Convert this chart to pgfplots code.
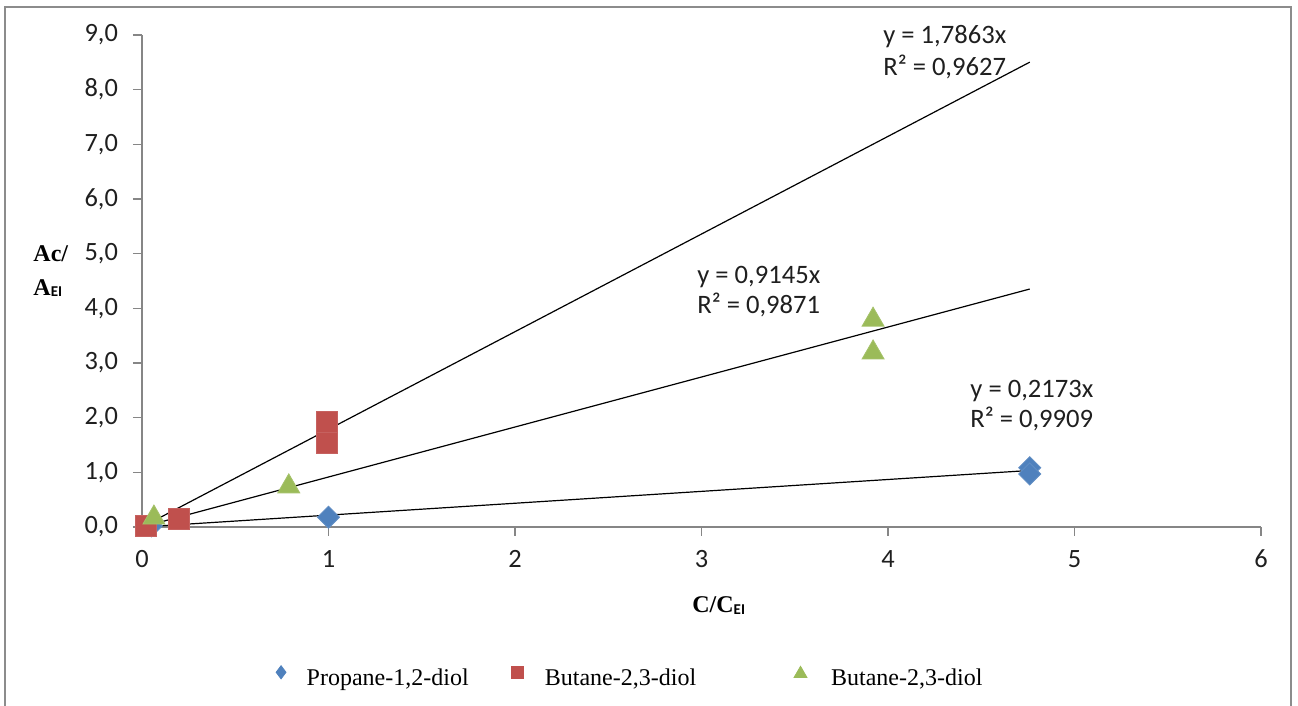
\documentclass[border=0pt]{standalone}
\usepackage{pgfplots}
\pgfplotsset{compat=1.18}
\usepackage{fontspec}
\setmainfont{Liberation Serif}
\newfontfamily\carlito{Carlito}
\definecolor{axgray}{HTML}{868686}
\definecolor{frgray}{HTML}{8C8C8C}
\definecolor{cblue}{HTML}{4F81BD}
\definecolor{cred}{HTML}{C0504D}
\definecolor{cgreen}{HTML}{9BBB59}
\begin{document}
\begin{tikzpicture}
\useasboundingbox (-71pt,-89.5pt) rectangle (578pt,263.5pt);
\draw[frgray, line width=1.2pt] (-68.5pt,-100pt) -- (-68.5pt,260pt) -- (574.5pt,260pt) -- (574.5pt,-100pt);
\begin{axis}[
  at={(0pt,0pt)}, anchor=south west,
  scale only axis, width=559.5pt, height=246pt,
  xmin=0, xmax=6, ymin=0, ymax=9,
  axis x line*=bottom, axis y line*=left,
  axis line style={axgray, line width=0.6pt},
  xtick={0,1,2,3,4,5,6}, ytick={0,1,2,3,4,5,6,7,8,9},
  xticklabels={0,1,2,3,4,5,6},
  yticklabels={{0,0},{1,0},{2,0},{3,0},{4,0},{5,0},{6,0},{7,0},{8,0},{9,0}},
  tick align=outside, major tick length=4.5pt,
  tick style={axgray, line width=0.6pt},
  tick label style={font=\carlito\fontsize{13.2}{15}\selectfont, text=black!88},
  yticklabel style={xshift=-4pt},
  xticklabel style={yshift=-3.5pt},
  clip=false,
  legend columns=3,
  legend style={at={(axis cs:0.717,-2.744)}, anchor=west, draw=none, fill=none,
    column sep=0pt, inner sep=0pt, nodes={inner sep=0pt},
    cells={anchor=base west}, font=\fontsize{12}{14}\selectfont},
]
\addplot[only marks, mark=square*, mark size=3.9pt, mark options={rotate=45, fill=cblue, draw=cblue!90!white},
  legend image code/.code={\draw[mark=diamond*, mark size=3.3pt, mark options={fill=cblue, draw=cblue}] plot coordinates {(2.6pt,6.5pt)};}]
  coordinates {(0.05,0.02) (1.0,0.18) (4.76,1.085) (4.76,0.97)};
\addlegendentry{\makebox[112.85pt][l]{\hspace{10.35pt}Propane-1,2-diol}}
\addplot[only marks, mark=square*, mark size=5.25pt, mark options={fill=cred, draw=cred!90!white, rounded corners=1pt},
  legend image code/.code={\draw[mark=square*, mark size=2.8pt, mark options={fill=cred, draw=cred}] plot coordinates {(3pt,6.5pt)};}]
  coordinates {(0.02,0.02) (0.2,0.155) (0.99,1.92) (0.99,1.54)};
\addlegendentry{\makebox[135.6pt][l]{\hspace{11pt}Butane-2,3-diol}}
\addplot[only marks, mark=triangle*, mark size=6.35pt, mark options={fill=cgreen, draw=cgreen!90!white},
  legend image code/.code={\draw[mark=triangle*, mark size=3.7pt, mark options={fill=cgreen, draw=cgreen}] plot coordinates {(3.4pt,5.8pt)};}]
  coordinates {(0.064,0.17) (0.787,0.74) (3.92,3.79) (3.92,3.19)};
\addlegendentry{\hspace{12.1pt}Butane-2,3-diol}
\addplot[forget plot, black, line width=0.6pt] coordinates {(0,0) (4.76,8.503)};
\addplot[forget plot, black, line width=0.6pt] coordinates {(0,0) (4.76,4.353)};
\addplot[forget plot, black, line width=0.6pt] coordinates {(0,0) (4.76,1.034)};
\begin{scope}[every node/.style={anchor=base west, inner sep=0pt, font=\carlito\fontsize{13.3}{15}\selectfont, text=black!88}]
\node at (axis cs:3.973,8.853) {y = 1,7863x};
\node at (axis cs:3.973,8.268) {R² = 0,9627};
\node at (axis cs:2.976,4.463) {y = 0,9145x};
\node at (axis cs:2.976,3.914) {R² = 0,9871};
\node at (axis cs:4.440,2.360) {y = 0,2173x};
\node at (axis cs:4.440,1.811) {R² = 0,9909};
\end{scope}
\node[anchor=base west, inner sep=0pt, font=\bfseries\fontsize{12}{14}\selectfont] at (axis cs:-0.584,4.85) {Ac/};
\node[anchor=base west, inner sep=0pt, font=\bfseries\fontsize{12}{14}\selectfont] at (axis cs:-0.584,4.23) {A\raisebox{-0.5pt}{\carlito\bfseries\fontsize{7.5}{8}\selectfont EI}};
\node[anchor=base west, inner sep=0pt, font=\bfseries\fontsize{12}{14}\selectfont] at (axis cs:2.949,-1.555) {C/C\raisebox{-1pt}{\carlito\bfseries\fontsize{7.5}{8}\selectfont EI}};
\end{axis}
\end{tikzpicture}
\end{document}
